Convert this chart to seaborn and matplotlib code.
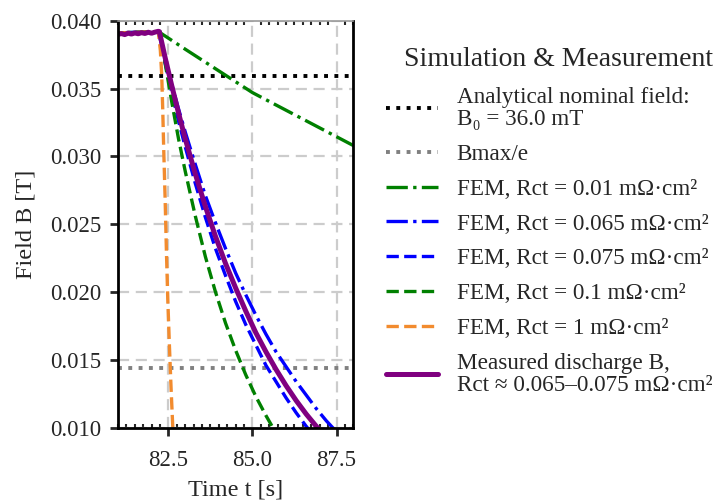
import numpy as np
import pandas as pd
import matplotlib
matplotlib.use("Agg")
import matplotlib.pyplot as plt
from matplotlib.ticker import FormatStrFormatter, MultipleLocator
import seaborn as sns

# reference levels
b_nominal = 0.0359
b_max = 0.0392
b_max_e = 0.01438

# measured discharge (flat part + decay)
t_meas = [81.0, 81.1, 81.2, 81.3, 81.4, 81.5, 81.6, 81.7, 81.8, 81.9, 82.0, 82.1, 82.2,
          82.23, 82.4, 82.6, 82.8, 83.0, 83.3, 83.6, 83.9, 84.2, 84.5, 84.8, 85.1,
          85.4, 85.7, 86.0, 86.3, 86.6, 86.9, 87.2]
b_meas = [0.03900, 0.03905, 0.03898, 0.03908, 0.03902, 0.03910, 0.03904, 0.03912, 0.03906,
          0.03915, 0.03908, 0.03916, 0.03922,
          0.0392, 0.0373, 0.0352, 0.0332, 0.0313, 0.0287, 0.0263, 0.0241, 0.0221, 0.0203,
          0.0186, 0.0170, 0.0156, 0.0143, 0.0131, 0.0120, 0.0110, 0.0101, 0.0092]

# FEM curves
t_fem_001 = [81.0, 82.2, 83.0, 84.0, 85.0, 86.0, 87.0, 88.0]
b_fem_001 = [0.0391, 0.0392, 0.0379, 0.0363, 0.0347, 0.0334, 0.0321, 0.0308]

t_fem_0065 = [81.0, 82.2, 82.4, 82.6, 82.8, 83.0, 83.3, 83.6, 83.9, 84.2, 84.5, 84.8,
              85.1, 85.4, 85.7, 86.0, 86.3, 86.6, 86.9, 87.2, 87.5]
b_fem_0065 = [0.0391, 0.0392, 0.0372, 0.0353, 0.0335, 0.0318, 0.0294, 0.0271, 0.0251,
              0.0232, 0.0214, 0.0198, 0.0183, 0.0169, 0.0156, 0.0145, 0.0134, 0.0124,
              0.0114, 0.0105, 0.0097]

t_fem_0075 = [81.0, 82.2, 82.4, 82.6, 82.8, 83.0, 83.3, 83.6, 83.9, 84.2, 84.5, 84.8,
              85.1, 85.4, 85.7, 86.0, 86.3, 86.6, 86.9]
b_fem_0075 = [0.0391, 0.0392, 0.0369, 0.0347, 0.0326, 0.0307, 0.0280, 0.0255, 0.0232,
              0.0212, 0.0193, 0.0176, 0.0161, 0.0146, 0.0134, 0.0122, 0.0111, 0.0101,
              0.0092]

t_fem_01 = [81.0, 82.25, 82.4, 82.6, 82.8, 83.0, 83.3, 83.6, 83.9, 84.2, 84.5, 84.8,
            85.1, 85.4, 85.7]
b_fem_01 = [0.0391, 0.0392, 0.0369, 0.0340, 0.0313, 0.0289, 0.0256, 0.0226, 0.0200,
            0.0177, 0.0157, 0.0139, 0.0123, 0.0109, 0.0096]

t_fem_1 = [81.0, 82.2, 82.26, 82.30, 82.33, 82.36, 82.40, 82.44, 82.48, 82.53, 82.58,
           82.63, 82.66]
b_fem_1 = [0.0391, 0.0392, 0.0378, 0.0360, 0.0335, 0.0305, 0.0270, 0.0230, 0.0195,
           0.0160, 0.0128, 0.0100, 0.0088]

sns.set_style("white")
plt.rcParams['font.family'] = ['Liberation Serif', 'DejaVu Serif']

fig = plt.figure(figsize=(7.24, 5.03), dpi=100)
ax = fig.add_axes([0.163, 0.1497, 0.325, 0.8091])

ax.axhline(b_nominal, color='black', linestyle=':', linewidth=2.8,
           label='Analytical nominal field:\nB\u2080 = 36.0 mT')
ax.axhline(b_max_e, color='gray', linestyle=':', linewidth=2.8, label='Bmax/e')

sns.lineplot(x=t_fem_001, y=b_fem_001, ax=ax, color='green', linestyle='-.', linewidth=2.4,
             label='FEM, Rct = 0.01 m\u03a9\u00b7cm\u00b2')
sns.lineplot(x=t_fem_0065, y=b_fem_0065, ax=ax, color='blue', linestyle='-.', linewidth=2.4,
             label='FEM, Rct = 0.065 m\u03a9\u00b7cm\u00b2')
sns.lineplot(x=t_fem_0075, y=b_fem_0075, ax=ax, color='blue', linestyle='--', linewidth=2.4,
             label='FEM, Rct = 0.075 m\u03a9\u00b7cm\u00b2')
sns.lineplot(x=t_fem_01, y=b_fem_01, ax=ax, color='green', linestyle='--', linewidth=2.4,
             label='FEM, Rct = 0.1 m\u03a9\u00b7cm\u00b2')
sns.lineplot(x=t_fem_1, y=b_fem_1, ax=ax, color='#f28b2e', linestyle='--', linewidth=2.4,
             label='FEM, Rct = 1 m\u03a9\u00b7cm\u00b2')
sns.lineplot(x=t_meas, y=b_meas, ax=ax, color='purple', linestyle='-', linewidth=3.6,
             label='Measured discharge B,\nRct \u2248 0.065\u20130.075 m\u03a9\u00b7cm\u00b2')

ax.set_xlim(81.0, 88.0)
ax.set_ylim(0.010, 0.040)
ax.xaxis.set_major_locator(MultipleLocator(2.5))
ax.xaxis.set_minor_locator(MultipleLocator(0.25))
ax.yaxis.set_major_locator(MultipleLocator(0.005))
ax.xaxis.set_major_formatter(FormatStrFormatter('%.1f'))
ax.yaxis.set_major_formatter(FormatStrFormatter('%.3f'))

ax.set_axisbelow(True)
ax.grid(True, which='major', linestyle=(0, (5, 3)), color='#cccccc', lw=1.6)

for side in ['left', 'right', 'bottom']:
    ax.spines[side].set_linewidth(2.0)
    ax.spines[side].set_color('black')
ax.spines['top'].set_linewidth(1.2)
ax.spines['top'].set_color('#999999')

ax.tick_params(axis='both', which='major', direction='out', length=6, width=2.0,
               labelsize=16.5, pad=6, left=True, bottom=True)
ax.tick_params(axis='x', which='major', pad=10)
ax.tick_params(axis='x', which='minor', direction='in', length=3, width=1.5,
               top=True, bottom=True)

ax.set_xlabel('Time t [s]', fontsize=17.5, labelpad=6)
ax.set_ylabel('Field B [T]', fontsize=17.5, labelpad=10)

# legend title placed as figure text, entries below it
fig.text(558 / 724, 1 - 60 / 503, 'Simulation & Measurement', fontsize=20,
         ha='center', va='center')
leg = ax.legend(loc='upper left', bbox_to_anchor=(386 / 724, 1 - 87 / 503),
                bbox_transform=fig.transFigure, frameon=False, borderpad=0,
                borderaxespad=0, handlelength=2.25, handletextpad=0.8,
                labelspacing=0.59, fontsize=16.7)
for txt in leg.get_texts():
    txt.set_linespacing(1.05)

fig.savefig('out.png', dpi=100)
